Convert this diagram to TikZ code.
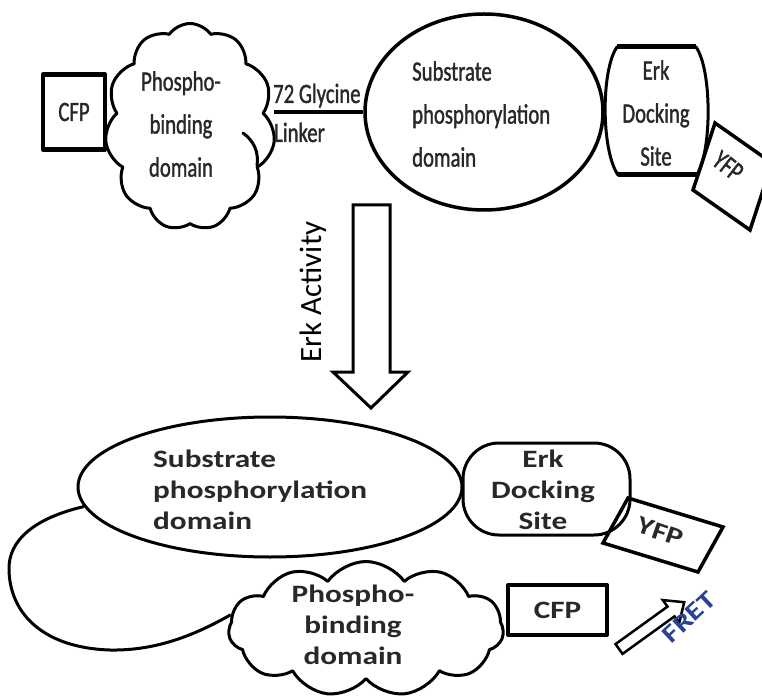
\documentclass[tikz,border=0pt]{standalone}
\usepackage{fontspec}
\setmainfont{Carlito}
\newfontfamily\topf{Carlito}[FakeStretch=0.74,FakeBold=1.2]
\newfontfamily\botf{Carlito}[FakeStretch=1.25]
\usetikzlibrary{shapes.geometric,shapes.symbols}
\definecolor{fretblue}{RGB}{40,66,150}
\definecolor{txt}{RGB}{40,40,40}
\begin{document}
\begin{tikzpicture}[x=1pt,y=-1pt,
  lw/.style={line width=3pt},
  toptext/.style={font=\topf\fontsize{28}{43}\selectfont, text=txt, align=center, inner sep=0pt},
  bottext/.style={font=\botf\bfseries\fontsize{25}{31}\selectfont, text=txt, align=center, inner sep=0pt},
  box/.style={draw, rectangle, line width=3.5pt, inner sep=0pt},
  cloudshape/.style={cloud, draw, line width=3pt, cloud puffs=11, cloud puff arc=110, cloud ignores aspect, inner sep=0pt},
  line join=round]
\useasboundingbox (0,0) rectangle (762,700);

% ---------- top construct ----------
\node[box, line width=4.5pt, minimum width=62pt, minimum height=75pt, toptext] (cfp1) at (74,112) {CFP};
\node[cloudshape, minimum width=170pt, minimum height=207pt] (cloud1) at (190,127) {};
\draw[lw, line cap=round] (243,133) .. controls (254,141) and (259,152) .. (257,166);
\node[toptext] (pb1) at (181,124) {Phospho-\\binding\\domain};
\node[draw, ellipse, line width=3.5pt, minimum width=238pt, minimum height=196pt, inner sep=0pt] (ell1) at (484,112) {};
\node[toptext, align=left, anchor=west] (sp1) at (412,114) {Substrate\\phosphorylation\\domain};
\draw[line width=3.5pt] (ell1.west) -- (ell1.west -| cloud1.east);
\node[toptext, anchor=base west] (gly) at (273,103) {72 Glycine};
\node[toptext, anchor=base west] (lnk) at (274,142) {Linker};
\draw[lw] (617,47) -- (696,47) .. controls (712,70) and (712,150) .. (697,175) -- (618,175) .. controls (601,150) and (601,70) .. (617,47) -- cycle;
\draw[line width=5pt] (617,47) -- (696,47) (618,175) -- (697,175);
\node[toptext] (erk1) at (656,113) {Erk\\Docking\\Site};
\draw[line width=3.5pt, line join=miter] (715,123) -- (772,163) -- (750,230) -- (693,190) -- cycle;
\node[toptext, rotate=-38] (yfpt1) at (728,166) {YFP};

% ---------- arrow ----------
\draw[line width=3pt, line join=miter] (353,205) -- (390,205) -- (390,372) -- (408,372) -- (371,408) -- (333,372) -- (353,372) -- cycle;
\node[font=\fontsize{31}{31}\selectfont, rotate=90, inner sep=0pt] (erkact) at (313,292) {Erk Activity};

% ---------- bottom construct ----------
\node[draw, ellipse, line width=3pt, minimum width=384pt, minimum height=140pt, inner sep=0pt] (ell2) at (270,487) {};
\node[bottext, align=left, anchor=west] (sp2) at (153,490) {Substrate\\phosphorylation\\domain};
\node[draw, line width=3pt, rounded corners=36pt, minimum width=167pt, minimum height=92pt, inner sep=0pt] (erk2box) at (546.5,489) {};
\node[bottext] (erk2) at (543,490) {Erk\\Docking\\Site};
\draw[line width=3.5pt, line join=miter] (628,498) -- (723,527) -- (698,572) -- (603,543) -- cycle;
\node[bottext, rotate=-19] (yfp2) at (660,532) {YFP};
\node[cloudshape, minimum width=275pt, minimum height=135pt] (cloud2) at (366,629) {};
\node[bottext] (pb2) at (353,625) {Phospho-\\binding\\domain};
\node[box, line width=4pt, minimum width=99pt, minimum height=50pt, bottext] (cfp2) at (557.5,610) {CFP};
\draw[lw] (ell2.186) .. controls (35,518) and (8,540) .. (9,570) .. controls (10,615) and (45,648) .. (110,650) .. controls (160,651) and (200,632) .. (cloud2.174);

% ---------- FRET ----------
\draw[line width=2.5pt, line join=miter] (615.5,644.1) -- (667.5,606.6) -- (662.8,600.1) -- (684.2,602.2) -- (679.2,622.9) -- (674.5,616.4) -- (622.5,653.9) -- cycle;
\node[font=\botf\bfseries\fontsize{25}{25}\selectfont, text=fretblue, rotate=43, inner sep=0pt] (fret) at (689,617) {FRET};
\end{tikzpicture}
\end{document}
